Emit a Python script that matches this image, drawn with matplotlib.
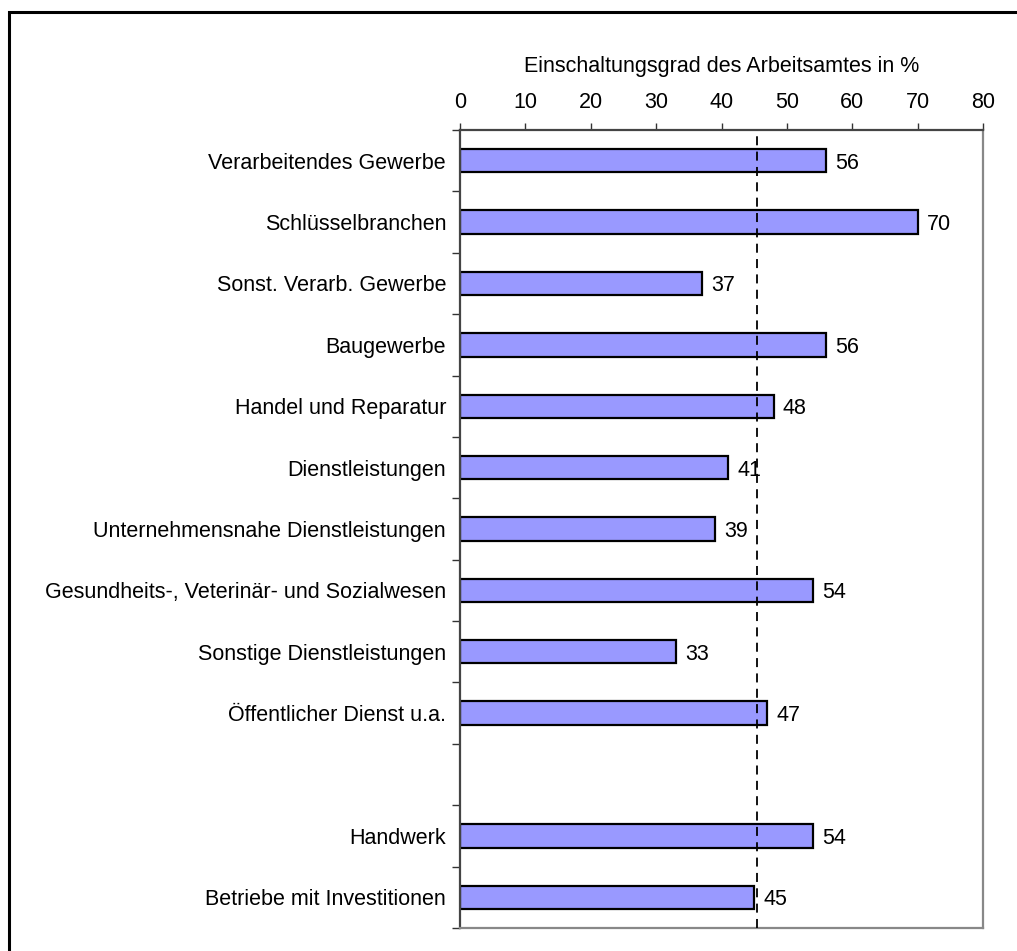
import numpy as np
import matplotlib.pyplot as plt
from matplotlib.patches import Rectangle

plt.rcParams["font.family"] = ["Liberation Sans", "DejaVu Sans"]

categories = [
    "Verarbeitendes Gewerbe",
    "Schlüsselbranchen",
    "Sonst. Verarb. Gewerbe",
    "Baugewerbe",
    "Handel und Reparatur",
    "Dienstleistungen",
    "Unternehmensnahe Dienstleistungen",
    "Gesundheits-, Veterinär- und Sozialwesen",
    "Sonstige Dienstleistungen",
    "Öffentlicher Dienst u.a.",
    "",
    "Handwerk",
    "Betriebe mit Investitionen",
]
values = [56, 70, 37, 56, 48, 41, 39, 54, 33, 47, None, 54, 45]
average = 45.4
x_ticks = [0, 10, 20, 30, 40, 50, 60, 70, 80]
x_title = "Einschaltungsgrad des Arbeitsamtes in %"

FS = 15.5

fig = plt.figure(figsize=(10.17, 9.51), dpi=100)
ax = fig.add_axes([460 / 1017, 1 - 928 / 951, 523 / 1017, 798 / 951])

pos = np.arange(len(categories))
bar_pos = [p for p, v in zip(pos, values) if v is not None]
bar_val = [v for v in values if v is not None]

ax.barh(bar_pos, bar_val, height=0.38, color="#9999ff", edgecolor="black",
        linewidth=1.6, zorder=2)
for p, v in zip(bar_pos, bar_val):
    ax.text(v + 1.4, p, str(v), va="center_baseline", ha="left", fontsize=FS, zorder=4)

ax.axvline(average, color="black", linestyle=(0, (5, 3.5)), linewidth=1.3, zorder=3)

ax.set_xlim(0, 80)
ax.set_ylim(len(categories) - 0.5, -0.5)

# x axis on top
ax.xaxis.set_ticks_position("top")
ax.xaxis.set_label_position("top")
ax.set_xticks(x_ticks)
ax.set_xticklabels([str(t) for t in x_ticks], fontsize=FS)
ax.tick_params(axis="x", direction="out", length=5, width=1, color="#333333", pad=7.5)
ax.set_xlabel(x_title, fontsize=FS, labelpad=14)

# category labels between boundary ticks
ax.set_yticks(np.arange(-0.5, len(categories)), minor=False)
ax.set_yticklabels([])
ax.set_yticks(pos, minor=True)
ax.set_yticklabels(categories, minor=True, fontsize=FS, va="center_baseline")
ax.tick_params(axis="y", which="major", direction="out", length=6, width=1, color="#333333")
ax.tick_params(axis="y", which="minor", length=0, pad=10)

ax.spines["left"].set_color("#444444")
ax.spines["top"].set_color("#444444")
ax.spines["right"].set_color("#888888")
ax.spines["bottom"].set_color("#888888")
for s in ax.spines.values():
    s.set_linewidth(1.6)

# outer frame
fig.patches.append(Rectangle((9 / 1017, -0.2), 1.2, 1.2 - 12 / 951,
                             transform=fig.transFigure, fill=False,
                             edgecolor="black", linewidth=2.2, clip_on=False))

fig.savefig("out.png", dpi=100)
